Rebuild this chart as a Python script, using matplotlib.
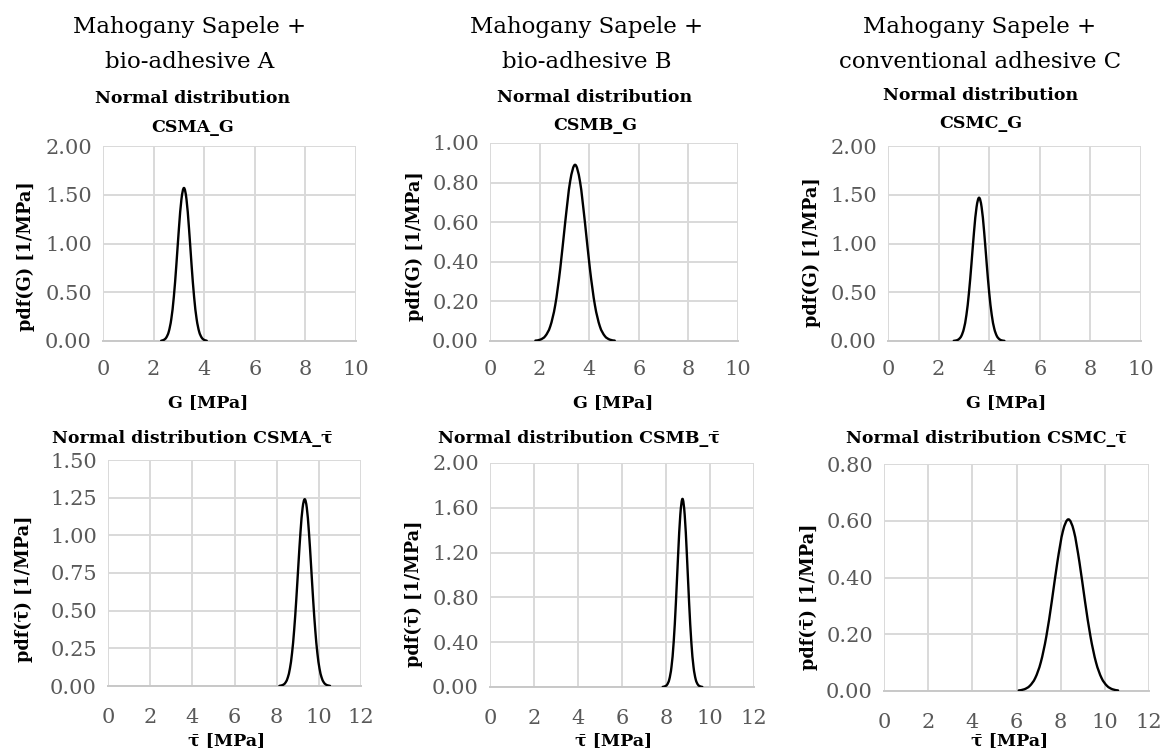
import matplotlib
matplotlib.use("Agg")
import matplotlib.pyplot as plt
from matplotlib.path import Path
from matplotlib.patches import PathPatch

# ---------------- data ----------------
col_titles = [["Mahogany Sapele +", "bio-adhesive A"],
              ["Mahogany Sapele +", "bio-adhesive B"],
              ["Mahogany Sapele +", "conventional adhesive C"]]
TAU = "\u03c4\u0304"
top_titles = ["Normal distribution\nCSMA_G", "Normal distribution\nCSMB_G", "Normal distribution\nCSMC_G"]
bot_titles = ["Normal distribution CSMA_" + TAU, "Normal distribution CSMB_" + TAU,
              "Normal distribution CSMC_" + TAU]

# CSMA_G
xa_g = [2.3, 2.4, 2.5, 2.6, 2.7, 2.8, 2.9, 3.0, 3.1, 3.2, 3.3, 3.4, 3.5, 3.6, 3.7, 3.8, 3.9, 4.0, 4.1]
ya_g = [0.003, 0.011, 0.035, 0.096, 0.226, 0.454, 0.782, 1.152, 1.453, 1.57,
        1.453, 1.152, 0.782, 0.454, 0.226, 0.096, 0.035, 0.011, 0.003]
# CSMB_G
xb_g = [1.83, 2.03, 2.23, 2.43, 2.63, 2.83, 3.03, 3.23, 3.43, 3.63, 3.83, 4.03, 4.23, 4.43, 4.63, 4.83, 5.03]
yb_g = [0.002, 0.007, 0.025, 0.074, 0.181, 0.363, 0.597, 0.805, 0.89,
        0.805, 0.597, 0.363, 0.181, 0.074, 0.025, 0.007, 0.002]
# CSMC_G
xc_g = [2.6, 2.7, 2.8, 2.9, 3.0, 3.1, 3.2, 3.3, 3.4, 3.5, 3.6, 3.7, 3.8, 3.9, 4.0, 4.1, 4.2, 4.3, 4.4, 4.5, 4.6]
yc_g = [0.002, 0.006, 0.019, 0.052, 0.127, 0.268, 0.495, 0.796, 1.12, 1.373, 1.47,
        1.373, 1.12, 0.796, 0.495, 0.268, 0.127, 0.052, 0.019, 0.006, 0.002]
# CSMA_tau
xa_t = [8.13, 8.23, 8.33, 8.43, 8.53, 8.63, 8.73, 8.83, 8.93, 9.03, 9.13, 9.23, 9.33,
        9.43, 9.53, 9.63, 9.73, 9.83, 9.93, 10.03, 10.13, 10.23, 10.33, 10.43, 10.53]
ya_t = [0.001, 0.004, 0.010, 0.025, 0.057, 0.117, 0.219, 0.372, 0.573, 0.803, 1.022, 1.182, 1.24,
        1.182, 1.022, 0.803, 0.573, 0.372, 0.219, 0.117, 0.057, 0.025, 0.010, 0.004, 0.001]
# CSMB_tau
xb_t = [7.85, 7.95, 8.05, 8.15, 8.25, 8.35, 8.45, 8.55, 8.65, 8.75,
        8.85, 8.95, 9.05, 9.15, 9.25, 9.35, 9.45, 9.55, 9.65]
yb_t = [0.001, 0.006, 0.021, 0.068, 0.181, 0.404, 0.754, 1.177, 1.537, 1.68,
        1.537, 1.177, 0.754, 0.404, 0.181, 0.068, 0.021, 0.006, 0.001]
# CSMC_tau
xc_t = [6.10, 6.35, 6.60, 6.85, 7.10, 7.35, 7.60, 7.85, 8.10, 8.35,
        8.60, 8.85, 9.10, 9.35, 9.60, 9.85, 10.10, 10.35, 10.60]
yc_t = [0.002, 0.006, 0.018, 0.046, 0.101, 0.192, 0.317, 0.454, 0.563, 0.605,
        0.563, 0.454, 0.317, 0.192, 0.101, 0.046, 0.018, 0.006, 0.002]

top_curves = [(xa_g, ya_g), (xb_g, yb_g), (xc_g, yc_g)]
bot_curves = [(xa_t, ya_t), (xb_t, yb_t), (xc_t, yc_t)]

top_yticks = [[0, 0.5, 1.0, 1.5, 2.0], [0, 0.2, 0.4, 0.6, 0.8, 1.0], [0, 0.5, 1.0, 1.5, 2.0]]
bot_yticks = [[0, 0.25, 0.5, 0.75, 1.0, 1.25, 1.5], [0, 0.4, 0.8, 1.2, 1.6, 2.0], [0, 0.2, 0.4, 0.6, 0.8]]
top_xticks = [0, 2, 4, 6, 8, 10]
bot_xticks = [0, 2, 4, 6, 8, 10, 12]

top_ylabel = "pdf(G) [1/MPa]"
bot_ylabel = "pdf(" + TAU + ") [1/MPa]"
top_xlabel = "G [MPa]"
bot_xlabel = TAU + " [MPa]"

# ---------------- layout ----------------
W, H = 1166, 752
fig = plt.figure(figsize=(W / 100, H / 100), dpi=100)
plt.rcParams['font.family'] = ['DejaVu Serif']

def fx(px):
    return px / W

def fy(py):
    return 1 - py / H

top_boxes = [(103, 356, 146, 341), (490, 738, 143, 341), (888, 1141, 146, 341)]
bot_boxes = [(108, 361, 460, 686), (490, 754, 463, 687), (884, 1149, 464, 691)]

GRID = "#d9d9d9"
TICKC = "#595959"

def smooth_patch(x, y):
    verts = [(x[0], y[0])]
    codes = [Path.MOVETO]
    n = len(x)
    for i in range(n - 1):
        p0 = i - 1 if i > 0 else i
        p3 = i + 2 if i + 2 < n else i + 1
        c1 = (x[i] + (x[i + 1] - x[p0]) / 6, y[i] + (y[i + 1] - y[p0]) / 6)
        c2 = (x[i + 1] - (x[p3] - x[i]) / 6, y[i + 1] - (y[p3] - y[i]) / 6)
        verts += [c1, c2, (x[i + 1], y[i + 1])]
        codes += [Path.CURVE4] * 3
    return PathPatch(Path(verts, codes), fill=False, edgecolor="black", lw=1.7,
                     capstyle="round", joinstyle="round", zorder=3)

def make_ax(box, xticks, yticks, curve, xpad):
    l, r, t, b = box
    ax = fig.add_axes([fx(l), fy(b), fx(r) - fx(l), fy(t) - fy(b)])
    ax.set_xlim(xticks[0], xticks[-1])
    ax.set_ylim(yticks[0], yticks[-1])
    ax.set_xticks(xticks)
    ax.set_yticks(yticks)
    ax.set_xticklabels([str(v) for v in xticks])
    ax.set_yticklabels(["%.2f" % v for v in yticks])
    for s in ["top", "right", "left"]:
        ax.spines[s].set_visible(False)
    ax.spines["bottom"].set_color("#c8c8c8")
    ax.spines["bottom"].set_linewidth(1.4)
    ax.grid(True, color=GRID, lw=1.4)
    ax.set_axisbelow(True)
    ax.tick_params(length=0, colors=TICKC, labelsize=15)
    ax.tick_params(axis="x", pad=xpad)
    ax.tick_params(axis="y", pad=8)
    ax.add_patch(smooth_patch(*curve))
    return ax

for i in range(3):
    make_ax(top_boxes[i], top_xticks, top_yticks[i], top_curves[i], 14)
    make_ax(bot_boxes[i], bot_xticks, bot_yticks[i], bot_curves[i], 16)

# column titles
col_cx = [190, 587, 980]
for i in range(3):
    fig.text(fx(col_cx[i]), fy(33), col_titles[i][0], ha="center", va="baseline", fontsize=16.5)
    fig.text(fx(col_cx[i]), fy(68), col_titles[i][1], ha="center", va="baseline", fontsize=16.5)

# top chart titles
tt_cx = [193, 595, 981]
tt_b1 = [103, 102, 100]
tt_b2 = [132, 130, 128]
for i in range(3):
    a, b = top_titles[i].split("\n")
    fig.text(fx(tt_cx[i]), fy(tt_b1[i]), a, ha="center", va="baseline", fontsize=12.5, fontweight="bold")
    fig.text(fx(tt_cx[i]), fy(tt_b2[i]), b, ha="center", va="baseline", fontsize=12.5, fontweight="bold")

# bottom chart titles
bt_cx = [192, 579, 987]
for i in range(3):
    fig.text(fx(bt_cx[i]), fy(443), bot_titles[i], ha="center", va="baseline", fontsize=12.5, fontweight="bold")

# y labels
top_yl = [(26, 256), (415, 246), (812, 252)]
bot_yl = [(24, 589), (414, 594), (809, 597)]
for (x, y) in top_yl:
    fig.text(fx(x), fy(y), top_ylabel, rotation=90, ha="center", va="center", fontsize=12.7, fontweight="bold")
for (x, y) in bot_yl:
    fig.text(fx(x), fy(y), bot_ylabel, rotation=90, ha="center", va="center", fontsize=12.7, fontweight="bold")

# x labels
top_xl = [208, 613, 1006]
bot_xl = [227, 614, 1010]
for x in top_xl:
    fig.text(fx(x), fy(407), top_xlabel, ha="center", va="baseline", fontsize=12.5, fontweight="bold")
for x in bot_xl:
    fig.text(fx(x), fy(745), bot_xlabel, ha="center", va="baseline", fontsize=12.5, fontweight="bold")

fig.savefig("out.png", dpi=100, facecolor="white")
